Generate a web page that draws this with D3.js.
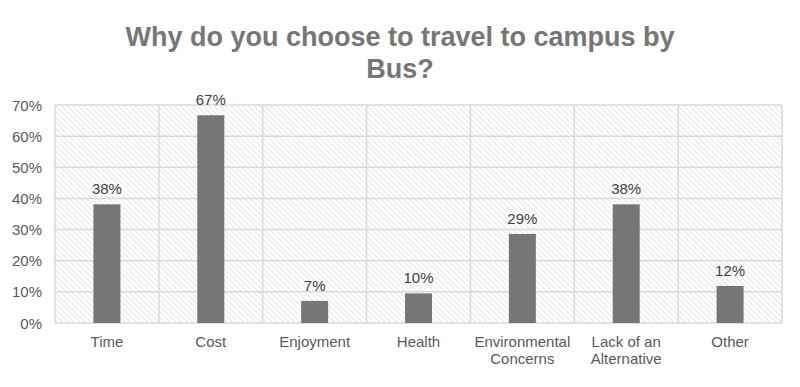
<!DOCTYPE html>
<html>
<head>
<meta charset="utf-8">
<script src="https://cdn.jsdelivr.net/npm/d3@7"></script>
<style>
  body { margin: 0; background: #fff; }
  text { font-family: "Liberation Sans", Arial, sans-serif; }
</style>
</head>
<body>
<script>
  // chart data
  let categories = ["Time", "Cost", "Enjoyment", "Health", "Environmental Concerns", "Lack of an Alternative", "Other"];
  let values = [38.1, 66.7, 7.1, 9.5, 28.6, 38.1, 11.9];
  let yTicks = [0, 10, 20, 30, 40, 50, 60, 70];

  let width = 800, height = 387;
  let plotLeft = 55, plotRight = 782, plotTop = 105, plotBottom = 323;

  let svg = d3.select("body").append("svg")
    .attr("width", width)
    .attr("height", height);

  // hatch pattern for plot background
  let pattern = svg.append("defs").append("pattern")
    .attr("id", "hatch")
    .attr("patternUnits", "userSpaceOnUse")
    .attr("width", 4)
    .attr("height", 4)
    .attr("patternTransform", "rotate(-45)");
  pattern.append("line")
    .attr("x1", 0).attr("y1", 0)
    .attr("x2", 0).attr("y2", 4)
    .attr("stroke", "#cfcfcf")
    .attr("stroke-width", 1);

  let x = d3.scaleBand()
    .domain(categories)
    .range([plotLeft, plotRight]);

  let y = d3.scaleLinear()
    .domain([0, 70])
    .range([plotBottom, plotTop]);

  svg.append("rect")
    .attr("x", plotLeft)
    .attr("y", plotTop)
    .attr("width", plotRight - plotLeft)
    .attr("height", plotBottom - plotTop)
    .attr("fill", "url(#hatch)");

  // horizontal gridlines
  svg.selectAll(".hgrid")
    .data(yTicks)
    .enter()
    .append("line")
      .attr("x1", plotLeft)
      .attr("x2", plotRight)
      .attr("y1", (d) => y(d))
      .attr("y2", (d) => y(d))
      .attr("stroke", "#d9d9d9")
      .attr("stroke-width", 1.5);

  // vertical gridlines at band edges
  let edges = categories.map((c) => x(c)).concat([plotRight]);
  svg.selectAll(".vgrid")
    .data(edges)
    .enter()
    .append("line")
      .attr("x1", (d) => d)
      .attr("x2", (d) => d)
      .attr("y1", plotTop)
      .attr("y2", plotBottom)
      .attr("stroke", "#d9d9d9")
      .attr("stroke-width", 1.5);

  // bars
  let barW = x.bandwidth() * 0.26;
  svg.selectAll(".bar")
    .data(values)
    .enter()
    .append("rect")
      .attr("x", (d, i) => x(categories[i]) + x.bandwidth() / 2 - barW / 2)
      .attr("y", (d) => y(d))
      .attr("width", barW)
      .attr("height", (d) => plotBottom - y(d))
      .attr("fill", "#767676");

  // data labels
  svg.selectAll(".label")
    .data(values)
    .enter()
    .append("text")
      .attr("x", (d, i) => x(categories[i]) + x.bandwidth() / 2)
      .attr("y", (d) => y(d) - 10)
      .attr("text-anchor", "middle")
      .style("font-size", "15px")
      .attr("fill", "#404040")
      .text((d) => Math.round(d) + "%");

  // y axis labels
  svg.selectAll(".ytick")
    .data(yTicks)
    .enter()
    .append("text")
      .attr("x", 42)
      .attr("y", (d) => y(d) + 5.5)
      .attr("text-anchor", "end")
      .style("font-size", "15px")
      .attr("fill", "#595959")
      .text((d) => d + "%");

  // x axis labels, wrapped to two lines where Excel did
  let wrap = {
    "Environmental Concerns": ["Environmental", "Concerns"],
    "Lack of an Alternative": ["Lack of an", "Alternative"]
  };
  categories.forEach((c) => {
    let lines = wrap[c] || [c];
    let t = svg.append("text")
      .attr("x", x(c) + x.bandwidth() / 2)
      .attr("y", 347)
      .attr("text-anchor", "middle")
      .style("font-size", "15px")
      .attr("fill", "#595959");
    lines.forEach((l, i) => {
      t.append("tspan")
        .attr("x", x(c) + x.bandwidth() / 2)
        .attr("dy", i === 0 ? 0 : 17)
        .text(l);
    });
  });

  // title
  let title = svg.append("text")
    .attr("text-anchor", "middle")
    .style("font-size", "27px")
    .style("font-weight", "bold")
    .attr("fill", "#767676");
  title.append("tspan").attr("x", 400).attr("y", 46).text("Why do you choose to travel to campus by");
  title.append("tspan").attr("x", 400).attr("y", 78).text("Bus?");
</script>
</body>
</html>
